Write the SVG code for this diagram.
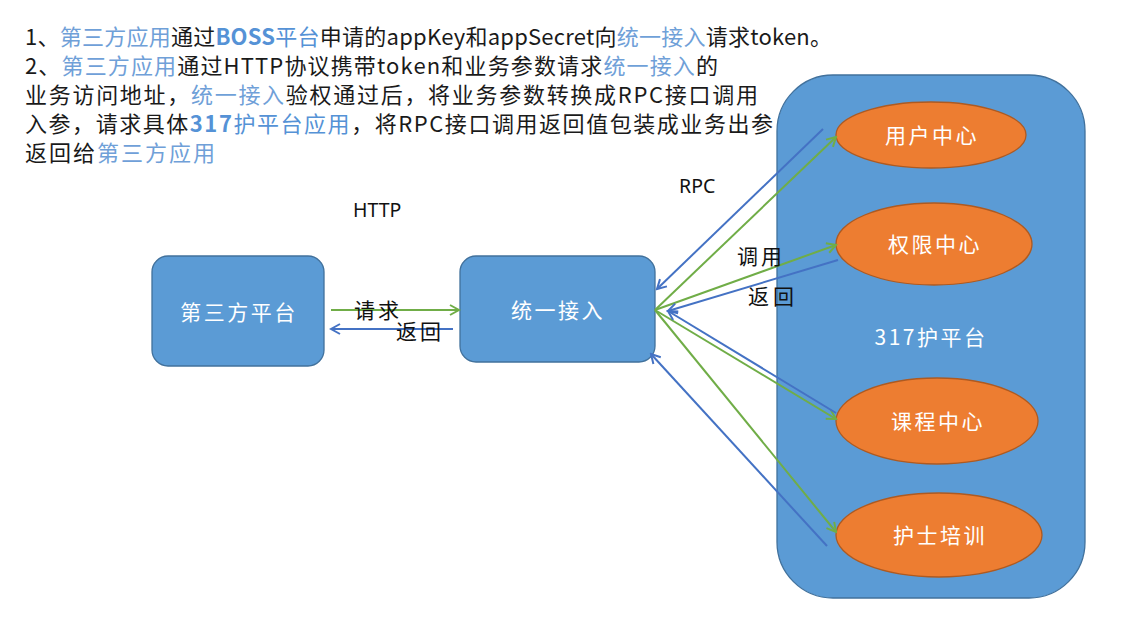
<svg xmlns="http://www.w3.org/2000/svg" width="1144" height="624" viewBox="0 0 1144 624">
<style>
text{font-family:"Noto Sans CJK SC","Noto Sans",sans-serif}
.desc{font-size:22px;fill:#1a1a1a}
.hl{fill:#6fa0d8}
.hlb{fill:#5592d6}
.bd{font-weight:bold}
.box{fill:#5b9bd5;stroke:#41719c;stroke-width:1.3}
.ell{fill:#ed7d31;stroke:#ae5a21;stroke-width:1.3}
.wt{font-size:21px;fill:#fff;letter-spacing:2.5px;text-anchor:middle}
.lbl{font-size:21px;fill:#111}
.lat{font-family:"Noto Sans","Open Sans",sans-serif;font-size:19.5px;fill:#111}
.g{stroke:#70ad47;stroke-width:2;fill:none;marker-end:url(#ag)}
.b{stroke:#4472c4;stroke-width:2;fill:none;marker-end:url(#ab)}
</style>
<defs>
<marker id="ag" markerUnits="userSpaceOnUse" markerWidth="14" markerHeight="14" viewBox="0 0 14 14" refX="12" refY="7" orient="auto">
<path d="M3,2 L12,7 L3,12" fill="none" stroke="#70ad47" stroke-width="2"/>
</marker>
<marker id="ab" markerUnits="userSpaceOnUse" markerWidth="14" markerHeight="14" viewBox="0 0 14 14" refX="12" refY="7" orient="auto">
<path d="M3,2 L12,7 L3,12" fill="none" stroke="#4472c4" stroke-width="2"/>
</marker>
</defs>
<rect width="1144" height="624" fill="#fff"/>
<g id="description">
<text class="desc" x="25" y="45" textLength="807" lengthAdjust="spacing">1、<tspan class="hl">第三方应用</tspan>通过<tspan class="hlb"><tspan class="bd">BOSS</tspan>平台</tspan>申请的appKey和appSecret向<tspan class="hl">统一接入</tspan>请求token。</text>
<text class="desc" x="25" y="74" textLength="693" lengthAdjust="spacing">2、<tspan class="hl">第三方应用</tspan>通过HTTP协议携带token和业务参数请求<tspan class="hl">统一接入</tspan>的</text>
<text class="desc" x="25" y="103" textLength="733" lengthAdjust="spacing">业务访问地址，<tspan class="hl">统一接入</tspan>验权通过后，将业务参数转换成RPC接口调用</text>
<text class="desc" x="25" y="132" textLength="748" lengthAdjust="spacing">入参，请求具体<tspan class="hlb"><tspan class="bd">317</tspan>护平台应用</tspan>，将RPC接口调用返回值包装成业务出参</text>
<text class="desc" x="25" y="161" textLength="190" lengthAdjust="spacing">返回给<tspan class="hl">第三方应用</tspan></text>
</g>
<g id="platform317">
<rect class="box" x="777" y="75" width="308" height="523" rx="56" ry="56"/>
<text class="wt" x="931" y="345">317护平台</text>
</g>
<g id="user-center">
<ellipse class="ell" cx="931" cy="135" rx="95" ry="33"/>
<text class="wt" x="932" y="143">用户中心</text>
</g>
<g id="auth-center">
<ellipse class="ell" cx="934" cy="244" rx="98" ry="41"/>
<text class="wt" x="935" y="252">权限中心</text>
</g>
<g id="course-center">
<ellipse class="ell" cx="937" cy="421" rx="101" ry="43"/>
<text class="wt" x="938" y="429">课程中心</text>
</g>
<g id="nurse-training">
<ellipse class="ell" cx="939" cy="535" rx="103" ry="42"/>
<text class="wt" x="940" y="543">护士培训</text>
</g>
<g id="third-party">
<rect class="box" x="152" y="256" width="172" height="110" rx="16" ry="16"/>
<text class="wt" x="239" y="320">第三方平台</text>
</g>
<g id="unified-access">
<rect class="box" x="460" y="256" width="195" height="106" rx="16" ry="16"/>
<text class="wt" x="558" y="318">统一接入</text>
</g>
<g id="connectors">
<line class="g" x1="331" y1="310" x2="459" y2="310"/>
<line class="b" x1="453" y1="329" x2="331" y2="329"/>
<line class="g" x1="655" y1="310" x2="836" y2="137"/>
<line class="g" x1="655" y1="310" x2="836" y2="245"/>
<line class="g" x1="655" y1="310" x2="836" y2="419"/>
<line class="g" x1="655" y1="310" x2="836" y2="532"/>
<line class="b" x1="823" y1="129" x2="657" y2="289"/>
<line class="b" x1="838" y1="260" x2="668" y2="311"/>
<line class="b" x1="836" y1="413" x2="668" y2="311"/>
<line class="b" x1="827" y1="546" x2="651" y2="354"/>
<text class="lbl" x="354" y="318" textLength="45">请求</text>
<text class="lbl" x="396" y="339" textLength="45">返回</text>
<text class="lbl" x="737" y="264" textLength="45">调用</text>
<text class="lbl" x="748" y="304" textLength="46">返回</text>
<text class="lat" x="353" y="217">HTTP</text>
<text class="lat" x="679" y="193">RPC</text>
</g>
</svg>
